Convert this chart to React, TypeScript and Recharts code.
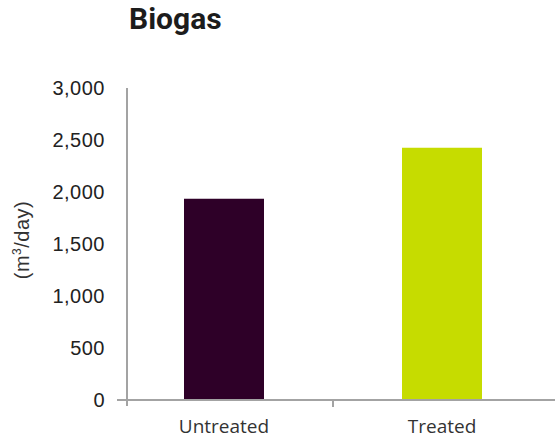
import React from 'react'
import { BarChart, Bar, XAxis, YAxis, Cell } from 'recharts'

const categories = ['Untreated', 'Treated']
const biogas = [1935, 2425]
const barColors = ['#2e0028', '#c6dc00']
const yTicks = [0, 500, 1000, 1500, 2000, 2500, 3000]

const data = categories.map((c, i) => ({ name: c, value: biogas[i] }))

const AXIS = '#a3a3a3'
const PLOT_LEFT = 127

const XTick = (props: any) => {
  const { x, y, payload, index } = props
  const half = payload?.offset ?? 108
  const axisY = y - 8
  return (
    <g>
      {index > 0 && <line x1={x - half} x2={x - half} y1={axisY} y2={axisY + 7} stroke={AXIS} strokeWidth={2} />}
      {index === 0 && (
        <>
          <line x1={PLOT_LEFT} x2={PLOT_LEFT} y1={axisY} y2={axisY + 6} stroke={AXIS} strokeWidth={2} />
          <line x1={PLOT_LEFT - 10} x2={PLOT_LEFT} y1={axisY} y2={axisY} stroke={AXIS} strokeWidth={2} />
        </>
      )}
      <text x={x} y={y} dy={25} textAnchor="middle" fill="#333" fontSize={19} fontFamily="'Open Sans', sans-serif">
        {payload.value}
      </text>
    </g>
  )
}

export default function App() {
  return (
    <div style={{ position: 'absolute', left: 0, top: 0, width: 555, height: 439, background: '#fff' }}>
      <div style={{ position: 'absolute', left: 129, top: 1, fontFamily: 'Roboto, sans-serif', fontWeight: 700, fontSize: 30, color: '#1c1c1c' }}>
        Biogas
      </div>
      <div style={{
        position: 'absolute', left: 22, top: 240, transform: 'translate(-50%, -50%) rotate(-90deg)',
        fontFamily: "'Liberation Sans', Arial, sans-serif", fontSize: 20, color: '#333', whiteSpace: 'nowrap',
        letterSpacing: 0.5,
      }}>
        (m<sup style={{ fontSize: 12 }}>3</sup>/day)
      </div>
      <BarChart width={555} height={439} data={data} margin={{ top: 88, right: 0, bottom: 9, left: 0 }}>
        <XAxis
          dataKey="name"
          height={30}
          padding={{ left: -12, right: 4 }}
          axisLine={{ stroke: AXIS, strokeWidth: 2 }}
          tickLine={false}
          tick={<XTick />}
          interval={0}
        />
        <YAxis
          width={PLOT_LEFT}
          domain={[0, 3000]}
          ticks={yTicks}
          tickFormatter={(v: number) => v.toLocaleString('en-US')}
          axisLine={{ stroke: AXIS, strokeWidth: 2 }}
          tickLine={false}
          tickMargin={16}
          tick={{ fill: '#222', fontSize: 20, letterSpacing: 0.5, fontFamily: "'Liberation Sans', Arial, sans-serif" }}
        />
        <Bar dataKey="value" barSize={80} isAnimationActive={false}>
          {data.map((d, i) => <Cell key={d.name} fill={barColors[i]} />)}
        </Bar>
      </BarChart>
    </div>
  )
}
